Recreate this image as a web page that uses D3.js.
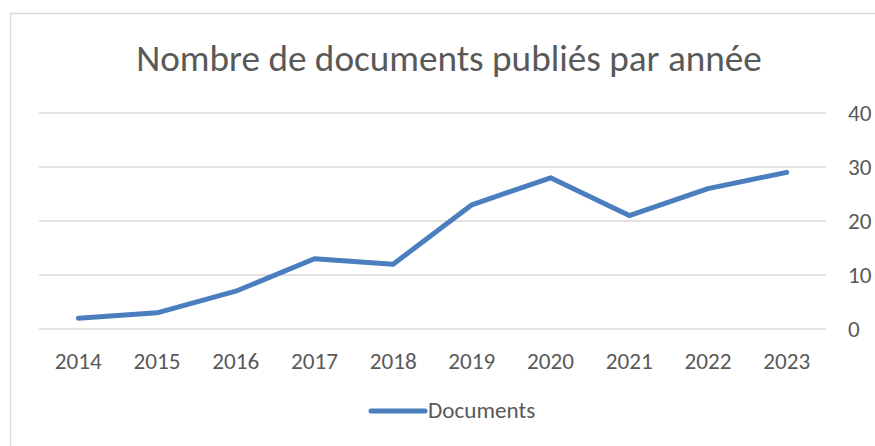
<!DOCTYPE html>
<html>
<head>
<meta charset="utf-8">
<script src="https://cdn.jsdelivr.net/npm/d3@7"></script>
<style>
  body { margin: 0; background: #fff; }
  svg { display: block; font-family: Carlito, Calibri, Lato, sans-serif; }
</style>
</head>
<body>
<div id="chart"></div>
<script>
// DATA
const years = ["2014", "2015", "2016", "2017", "2018", "2019", "2020", "2021", "2022", "2023"];
const documents = [2, 3, 7, 13, 12, 23, 28, 21, 26, 29];
const yTicks = [0, 10, 20, 30, 40];
const seriesName = "Documents";
const title = "Nombre de documents publiés par année";

const width = 875
const height = 446
const plot = ({ left: 39, right: 826, top: 113, bottom: 329 })
const textColor = "#595959"
const lineColor = "#4a7ebf"

// shrink/grow a text element so it spans the wanted width
const fitText = (sel, targetWidth) => {
    const node = sel.node();
    const fs = parseFloat(sel.attr("font-size"));
    const w = node.getComputedTextLength();
    sel.attr("font-size", fs * targetWidth / w);
}

const x = d3.scaleBand()
    .domain(years)
    .range([plot.left, plot.right])

const y = d3.scaleLinear()
    .domain([0, 40])
    .range([plot.bottom, plot.top])

const svg = d3.select("#chart")
    .append("svg")
    .attr("width", width)
    .attr("height", height)

// chart frame
svg.append("rect")
    .attr("x", 10.5)
    .attr("y", 13.5)
    .attr("width", width + 20)
    .attr("height", height + 20)
    .attr("fill", "none")
    .attr("stroke", "#d9d9d9")
    .attr("stroke-width", 1.5)

// title
svg.append("text")
    .attr("x", 449)
    .attr("y", 71)
    .attr("text-anchor", "middle")
    .attr("font-size", 30)
    .attr("fill", textColor)
    .text(title)
    .call(fitText, 626)

// gridlines
svg.append("g")
    .selectAll("line")
    .data(yTicks)
    .join("line")
    .attr("x1", plot.left)
    .attr("x2", plot.right)
    .attr("y1", d => y(d))
    .attr("y2", d => y(d))
    .attr("stroke", "#d9d9d9")
    .attr("stroke-width", 1.5)

// y axis on the right, labels left aligned
const yAxis = svg.append("g")
    .attr("transform", `translate(${plot.right + 22},0)`)
    .call(d3.axisRight(y).tickValues(yTicks).tickSize(0).tickPadding(0))
    .call(g => g.select(".domain").remove())
yAxis.selectAll("text")
    .attr("font-size", 20)
    .attr("font-family", null)
    .attr("fill", textColor)
yAxis.attr("font-family", null).attr("font-size", null)

// x axis labels
const xAxis = svg.append("g")
    .attr("transform", `translate(0,${plot.bottom})`)
    .call(d3.axisBottom(x).tickSize(0).tickPadding(0))
    .call(g => g.select(".domain").remove())
xAxis.attr("font-family", null).attr("font-size", null)
xAxis.selectAll("text")
    .attr("font-size", 20)
    .attr("fill", textColor)
    .attr("dy", null)
    .attr("y", 40)

// match label sizes to the reference
const xLab = xAxis.select("text");
fitText(xLab, 47);
const labelSize = xLab.attr("font-size");
xAxis.selectAll("text").attr("font-size", labelSize)
yAxis.selectAll("text").attr("font-size", labelSize)

// line
const line = d3.line()
    .x((d, i) => x(years[i]) + x.bandwidth() / 2)
    .y(d => y(d))

svg.append("path")
    .datum(documents)
    .attr("d", line)
    .attr("fill", "none")
    .attr("stroke", lineColor)
    .attr("stroke-width", 5)
    .attr("stroke-linecap", "round")
    .attr("stroke-linejoin", "round")

// legend
const legend = svg.append("g")
legend.append("line")
    .attr("x1", 371)
    .attr("x2", 425)
    .attr("y1", 411)
    .attr("y2", 411)
    .attr("stroke", lineColor)
    .attr("stroke-width", 5)
    .attr("stroke-linecap", "round")
legend.append("text")
    .attr("x", 428)
    .attr("y", 418)
    .attr("font-size", labelSize)
    .attr("fill", textColor)
    .text(seriesName)
</script>
</body>
</html>
